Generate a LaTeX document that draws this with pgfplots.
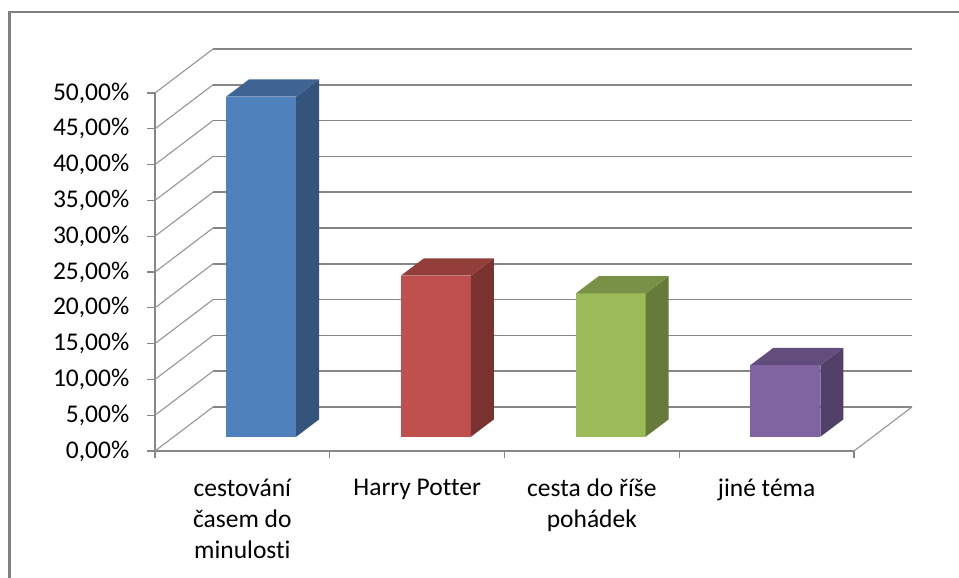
\documentclass[border=0pt]{standalone}
\usepackage{pgfplots}
\pgfplotsset{compat=1.18}
\usepackage{fontspec}
\setmainfont{Carlito}[Ligatures=NoCommon]
\definecolor{gridc}{RGB}{134,134,134}
\definecolor{diagc}{RGB}{150,150,150}
\definecolor{frame}{RGB}{128,128,128}
\definecolor{b1}{RGB}{79,129,189}\definecolor{s1}{RGB}{52,84,124}\definecolor{t1}{RGB}{62,100,148}
\definecolor{b2}{RGB}{192,80,77}\definecolor{s2}{RGB}{122,50,48}\definecolor{t2}{RGB}{148,62,60}
\definecolor{b3}{RGB}{155,187,89}\definecolor{s3}{RGB}{102,122,58}\definecolor{t3}{RGB}{121,145,70}
\definecolor{b4}{RGB}{128,100,162}\definecolor{s4}{RGB}{82,64,104}\definecolor{t4}{RGB}{98,77,125}
\newcommand{\barfaces}[4]{%
  \path (axis cs:#1,#2) coordinate (T) (axis cs:#1,0) coordinate (B);
  \fill[#3] ([xshift=35pt]B) -- ([xshift=35pt]T) -- ([xshift=58pt,yshift=17.3pt]T) -- ([xshift=58pt,yshift=17.3pt]B) -- cycle;
  \fill[#4] ([xshift=-35pt]T) -- ([xshift=35pt]T) -- ([xshift=58pt,yshift=17.3pt]T) -- ([xshift=-12pt,yshift=17.3pt]T) -- cycle;
}
\pgfplotsset{common/.style={x=174.75pt, y=7.16pt, xmin=0, xmax=4, ymin=0, ymax=50, anchor=south west, clip=false}}
\begin{document}
\begin{tikzpicture}
\useasboundingbox (0,0) rectangle (959pt,578pt);
\fill[white] (0,0) rectangle (959pt,578pt);
\draw[frame, line width=3pt] (9.5pt,0) -- (9.5pt,566pt);
\draw[frame, line width=1.5pt] (8pt,566pt) -- (959pt,566pt);
% back wall
\begin{axis}[common, at={(213pt,171pt)},
  axis line style={draw=none}, xtick=\empty, ytick={0,5,...,50}, yticklabels={},
  major tick length=0pt, ymajorgrids, grid style={gridc, line width=1.6pt}]
\addplot[draw=none] coordinates {(0,0)};
\end{axis}
% front axis
\begin{axis}[common, at={(155pt,127pt)},
  axis x line*=bottom, axis y line*=left,
  axis line style={gridc, line width=1.5pt},
  tick style={gridc, line width=1.2pt}, tick align=outside, major tick length=7.5pt,
  ytick={0,5,...,50},
  yticklabels={{0,00\%},{5,00\%},{10,00\%},{15,00\%},{20,00\%},{25,00\%},{30,00\%},{35,00\%},{40,00\%},{45,00\%},{50,00\%}},
  yticklabel style={font=\fontsize{25.5}{30}\selectfont, anchor=east, inner sep=0pt, xshift=-18pt},
  xtick={0,1,2,3,4},
  xticklabels={{cestování\\časem do\\minulosti},{Harry Potter},{cesta do říše\\pohádek},{jiné téma},{}},
  xticklabel style={font=\fontsize{25.5}{31}\selectfont, align=center, anchor=north, inner sep=0pt, xshift=87.375pt, yshift=-20pt}]
\addplot[draw=none] coordinates {(0,0)};
\pgfplotsinvokeforeach{0,5,...,50}{\draw[diagc, line width=1.1pt] (axis cs:0,#1) -- ++(58pt,44pt);}
\draw[diagc, line width=1.1pt] (axis cs:4,0) -- ++(58pt,44pt);
\end{axis}
% bars
\begin{axis}[common, at={(173.8pt,141.3pt)}, axis lines=none]
\addplot[ybar, bar width=70pt, bar shift=0pt, fill=b1, draw=none] coordinates {(0.5,47.5)};
\addplot[ybar, bar width=70pt, bar shift=0pt, fill=b2, draw=none] coordinates {(1.5,22.5)};
\addplot[ybar, bar width=70pt, bar shift=0pt, fill=b3, draw=none] coordinates {(2.5,20)};
\addplot[ybar, bar width=70pt, bar shift=0pt, fill=b4, draw=none] coordinates {(3.5,10)};
\barfaces{0.5}{47.5}{s1}{t1}
\barfaces{1.5}{22.5}{s2}{t2}
\barfaces{2.5}{20}{s3}{t3}
\barfaces{3.5}{10}{s4}{t4}
\end{axis}
\end{tikzpicture}
\end{document}
